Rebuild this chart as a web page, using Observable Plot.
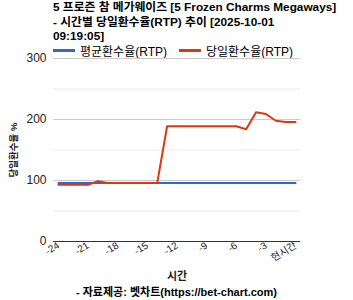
<!DOCTYPE html>
<html><head><meta charset="utf-8">
<script src="https://cdn.jsdelivr.net/npm/d3@7"></script>
<script src="https://cdn.jsdelivr.net/npm/@observablehq/plot@0.6"></script>
<style>
body{margin:0;background:#fff;font-family:"Liberation Sans","Noto Sans CJK KR",sans-serif;}
#wrap{position:relative;width:353px;height:300px;overflow:hidden;}
#title{position:absolute;left:53px;top:0;width:298px;white-space:pre-line;font-weight:bold;font-size:11.8px;line-height:14.5px;color:#000;}
#legend{position:absolute;left:53px;top:42px;font-size:12px;display:flex;align-items:center;}
.sw{display:inline-block;width:22px;height:3px;margin-right:5px;}
.it{display:flex;align-items:center;margin-right:12px;}
#caption{position:absolute;left:0;width:353px;top:283px;text-align:center;font-weight:bold;font-size:11px;}
svg{position:absolute;left:0;top:0;}
</style></head>
<body><div id="wrap">
<div id="title"></div>
<div id="legend"></div>
<div id="chart"></div>
<div id="caption"></div>
</div>
<script>
const titleLines = ["5 프로즌 참 메가웨이즈 [5 Frozen Charms Megaways]", "- 시간별 당일환수율(RTP) 추이 [2025-10-01", "09:19:05]"];
const captionText = "- 자료제공: 벳차트(https://bet-chart.com)";
const hours = [-24,-23,-22,-21,-20,-19,-18,-17,-16,-15,-14,-13,-12,-11,-10,-9,-8,-7,-6,-5,-4,-3,-2,-1,0];
const avgRTP = [96,96,96,96,96,96,96,96,96,96,96,96,96,96,96,96,96,96,96,96,96,96,96,96,96];
const dailyRTP = [93,93,93,93,99,96,96,96,96,96,96,189,189,189,189,189,189,189,189,184,212,209,198,196,196];
const xTicks = [-24,-21,-18,-15,-12,-9,-6,-3,0];
const yTicks = [0,100,200,300];
const yMinor = [50,150,250];
const seriesNames = ["평균환수율(RTP)","당일환수율(RTP)"];
const colors = ["#3366cc","#dc3912"];

document.getElementById("title").textContent = titleLines.join("\n");
document.getElementById("caption").textContent = captionText;
const lg = document.getElementById("legend");
seriesNames.forEach((n,i)=>{
  const d=document.createElement("span");d.className="it";
  d.innerHTML=`<span class="sw" style="background:${colors[i]}"></span>${n}`;
  lg.appendChild(d);
});

const rows = [];
hours.forEach((h,i)=>{
  rows.push({h, v: avgRTP[i], s: seriesNames[0]});
  rows.push({h, v: dailyRTP[i], s: seriesNames[1]});
});

const chart = Plot.plot({
  width:353, height:300,
  marginLeft:53, marginRight:53, marginTop:58, marginBottom:59,
  style:{fontFamily:"Liberation Sans, Noto Sans CJK KR, sans-serif", fontSize:"11px", color:"#222", background:"transparent"},
  x:{domain:[-24.5,0.5]},
  y:{domain:[0,300]},
  color:{domain:seriesNames, range:colors},
  marks:[
    Plot.ruleY(yMinor,{stroke:"#ebebeb", strokeWidth:1}),
    Plot.ruleY([100,200,300],{stroke:"#cccccc", strokeWidth:1}),
    Plot.axisY({ticks:yTicks, tickSize:0, tickPadding:7, label:null, fontSize:12}),
    Plot.axisY({ticks:[], tickSize:0, label:"당일환수율 %", labelAnchor:"center", labelOffset:43, labelArrow:"none", fontSize:9.5, fontWeight:"bold"}),
    Plot.axisX({ticks:xTicks, tickSize:0, tickPadding:3, tickRotate:-32, tickFormat:d=>d===0?"현시간":String(d), label:null, fontSize:10}),
    Plot.axisX({ticks:[], tickSize:0, label:"시간", labelAnchor:"center", labelOffset:38, labelArrow:"none", fontSize:11, fontWeight:"bold"}),
    Plot.lineY(rows,{x:"h", y:"v", stroke:"s", strokeWidth:2}),
    Plot.ruleY([0],{stroke:"#333", strokeWidth:1})
  ]
});
document.getElementById("chart").appendChild(chart);
</script>
</body></html>
